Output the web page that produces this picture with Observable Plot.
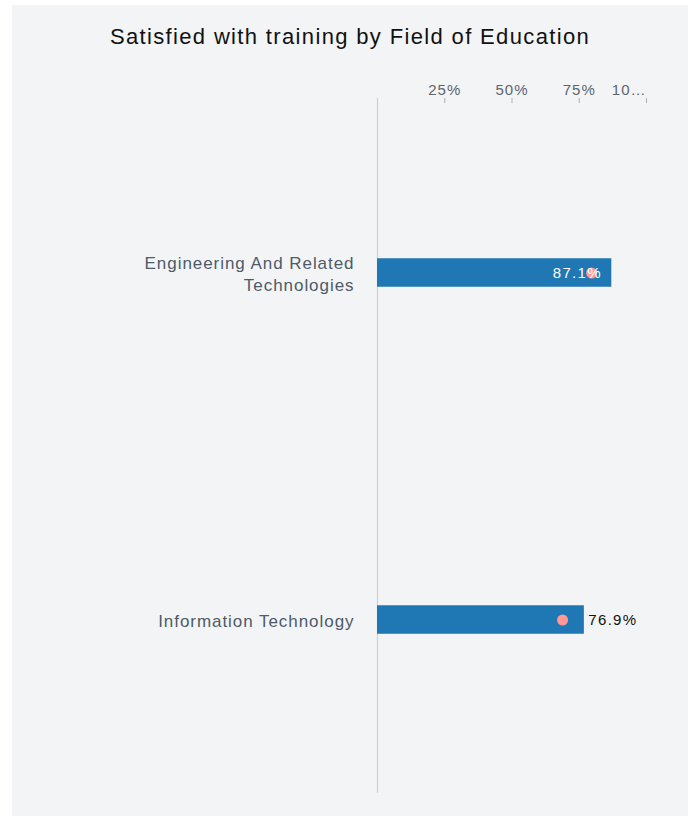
<!DOCTYPE html>
<html><head><meta charset="utf-8">
<script src="https://cdn.jsdelivr.net/npm/d3@7"></script>
<script src="https://cdn.jsdelivr.net/npm/@observablehq/plot@0.6"></script>
<style>
body{margin:0;background:#fff;}
#panel{position:absolute;left:12px;top:5px;width:676px;height:811px;background:#f3f4f6;}
#title{position:absolute;left:0;top:19px;width:676px;text-align:center;font:22px "Liberation Sans",Arial,sans-serif;line-height:25px;color:#111;letter-spacing:1.35px;}
#chart{position:absolute;left:0;top:55px;}
#chart g[aria-label="x-axis tick label"] text{letter-spacing:1px;}
#chart g[aria-label="y-axis tick label"] text{letter-spacing:0.95px;}
#chart g[aria-label="text"] text{letter-spacing:1.3px;}
</style></head><body>
<div id="panel"><div id="title">Satisfied with training by Field of Education</div><div id="chart"></div></div>
<script>
const categories = ["Engineering And Related Technologies", "Information Technology"];
const categoryLabels = ["Engineering And Related\nTechnologies", "Information Technology"];
const satisfied = [87.1, 76.9];
const comparison = [79.6, 68.8];
const tickValues = [25, 50, 75, 100];
const tickLabels = ["25%", "50%", "75%", "10…"];

const data = categories.map((c, i) => ({category: c, value: satisfied[i], comparison: comparison[i]}));

const W = 676, H = 756, mt = 38, mb = 23, ml = 365, mr = 42;
const band = (H - mt - mb) / categories.length;
const barH = 29;
const inset = (band - barH) / 2;
const insideThreshold = 80;
const font = "Liberation Sans, Arial, sans-serif";

const chart = Plot.plot({
  width: W, height: H,
  marginTop: mt, marginBottom: mb, marginLeft: ml, marginRight: mr,
  style: {background: "transparent", fontFamily: font},
  x: {domain: [0, 100], axis: null},
  y: {domain: categories, padding: 0, axis: null},
  marks: [
    Plot.ruleX([0], {stroke: "#cdd0d4", strokeWidth: 1.2}),
    Plot.barX(data, {y: "category", x: "value", fill: "#1f77b4", insetTop: inset, insetBottom: inset}),
    Plot.dot(data, {y: "category", x: "comparison", r: 5.5, fill: "#ff9896", stroke: null}),
    Plot.text(data.filter(d => d.value > insideThreshold), {
      x: "value", y: "category", text: d => d.value.toFixed(1) + "%",
      textAnchor: "end", dx: -10, fill: "white", fontSize: 15
    }),
    Plot.text(data.filter(d => d.value <= insideThreshold), {
      x: "value", y: "category", text: d => d.value.toFixed(1) + "%",
      textAnchor: "start", dx: 4, fill: "#111", fontSize: 15
    }),
    Plot.ruleX(tickValues, {insetBottom: H - mt - mb - 5, stroke: "#a9b3bd"}),
    Plot.axisX(tickValues.slice(0, 3), {
      anchor: "top", tickSize: 0, tickPadding: 4, fontSize: 15, color: "#5b6670",
      tickFormat: d => tickLabels[tickValues.indexOf(d)]
    }),
    Plot.axisX(tickValues.slice(3), {
      anchor: "top", tickSize: 0, tickPadding: 4, fontSize: 15, color: "#5b6670", textAnchor: "end",
      tickFormat: d => tickLabels[tickValues.indexOf(d)]
    }),
    Plot.axisY({
      label: null, tickSize: 0, tickPadding: 23, fontSize: 17, color: "#4d5b69", lineHeight: 1.3,
      tickFormat: d => categoryLabels[categories.indexOf(d)]
    })
  ]
});
document.getElementById("chart").appendChild(chart);
</script>
</body></html>
